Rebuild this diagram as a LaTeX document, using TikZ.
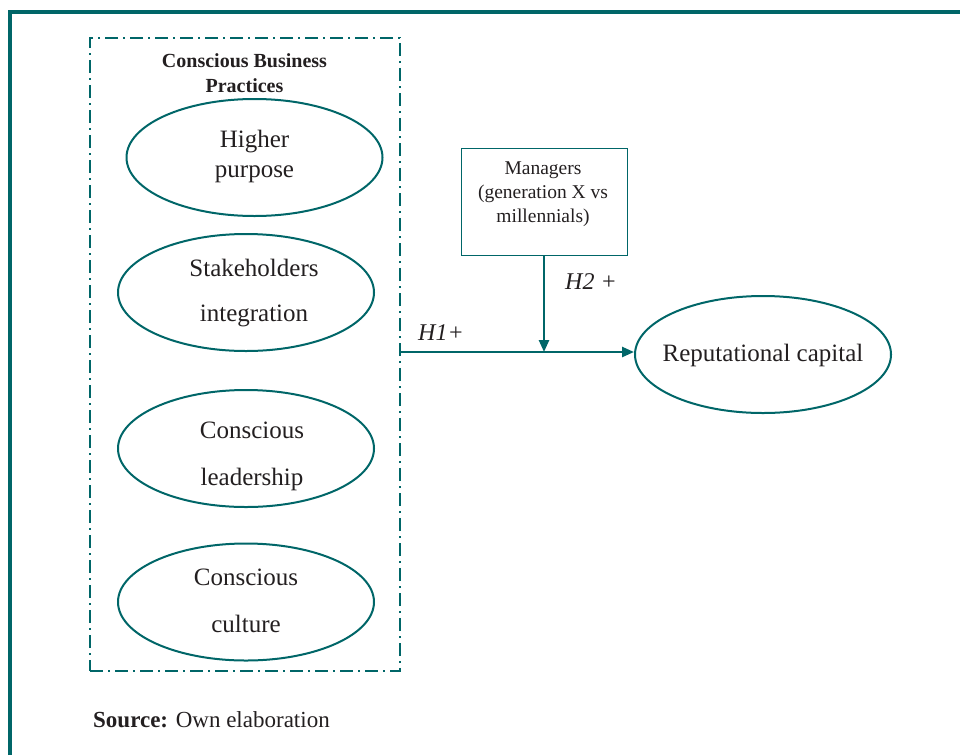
\documentclass[tikz,border=0pt]{standalone}
\usepackage{fontspec}
\setmainfont{Liberation Serif}
\usetikzlibrary{shapes.geometric,arrows.meta}
\definecolor{teal1}{RGB}{0,102,104}
\definecolor{txt}{RGB}{35,31,32}
\tikzset{
  ell/.style={draw=teal1, line width=2pt, ellipse, minimum width=256pt, minimum height=117pt, inner sep=0pt},
  etxt/.style={anchor=base, inner sep=0pt, text=txt, font=\fontsize{25}{30}\selectfont},
  conn/.style={draw=teal1, line width=2.5pt, -{Triangle[length=12pt,width=10pt]}},
  lbl/.style={anchor=base west, inner sep=0pt, text=txt, font=\fontsize{24}{28}\selectfont\itshape},
}
\begin{document}
\begin{tikzpicture}[x=1pt,y=-1pt]
\useasboundingbox (0,0) rectangle (960,755);
% outer frame
\draw[teal1, line width=4pt] (9.5,755) -- (9.5,12) -- (960,12);
% dash-dot group box
\node[draw=teal1, line width=2pt, dash pattern=on 13pt off 5pt on 2pt off 5pt, minimum width=310pt, minimum height=633pt, inner sep=0pt] (grp) at (245,354.5) {};
\node[anchor=base, inner sep=0pt, text=txt, font=\fontsize{20}{25}\selectfont\bfseries] (ttl1) at (244.5,67) {Conscious Business};
\node[anchor=base, inner sep=0pt, text=txt, font=\fontsize{20}{25}\selectfont\bfseries] (ttl2) at (244.5,92) {Practices};
% ellipses
\node[ell] (e1) at (254.5,157.5) {};
\node[etxt] (e1a) at (254.5,147) {Higher};
\node[etxt] (e1b) at (254.5,177) {purpose};
\node[ell] (e2) at (246,292.5) {};
\node[etxt] (e2a) at (254,276) {Stakeholders};
\node[etxt] (e2b) at (254,321) {integration};
\node[ell] (e3) at (246,448.5) {};
\node[etxt] (e3a) at (252,438) {Conscious};
\node[etxt] (e3b) at (252,485) {leadership};
\node[ell] (e4) at (246,602) {};
\node[etxt] (e4a) at (246,585) {Conscious};
\node[etxt] (e4b) at (246,632) {culture};
% managers box
\node[draw=teal1, line width=1pt, minimum width=166pt, minimum height=107pt, inner sep=0pt] (mgr) at (544,201.5) {};
\node[anchor=base, inner sep=0pt, text=txt, font=\fontsize{19.5}{24}\selectfont] (m1) at (543,174) {Managers};
\node[anchor=base, inner sep=0pt, text=txt, font=\fontsize{19.5}{24}\selectfont] (m2) at (543,198) {(generation X vs};
\node[anchor=base, inner sep=0pt, text=txt, font=\fontsize{19.5}{24}\selectfont] (m3) at (543,222) {millennials)};
% reputational capital
\node[ell] (rc) at (763,354.5) {};
\node[etxt] (rct) at (763,361) {Reputational capital};
% connectors
\coordinate (j) at (544,352);
\draw[conn] (grp.east |- j) -- (rc.west |- j);
\draw[conn] (mgr.south -| j) -- (j);
\node[lbl] (h1) at (418,340) {H1+};
\node[lbl] (h2) at (565,289) {H2 +};
% source
\node[anchor=base west, inner sep=0pt, text=txt, font=\fontsize{23}{28}\selectfont] (src) at (93,727) {\textbf{Source:} Own elaboration};
\end{tikzpicture}
\end{document}
